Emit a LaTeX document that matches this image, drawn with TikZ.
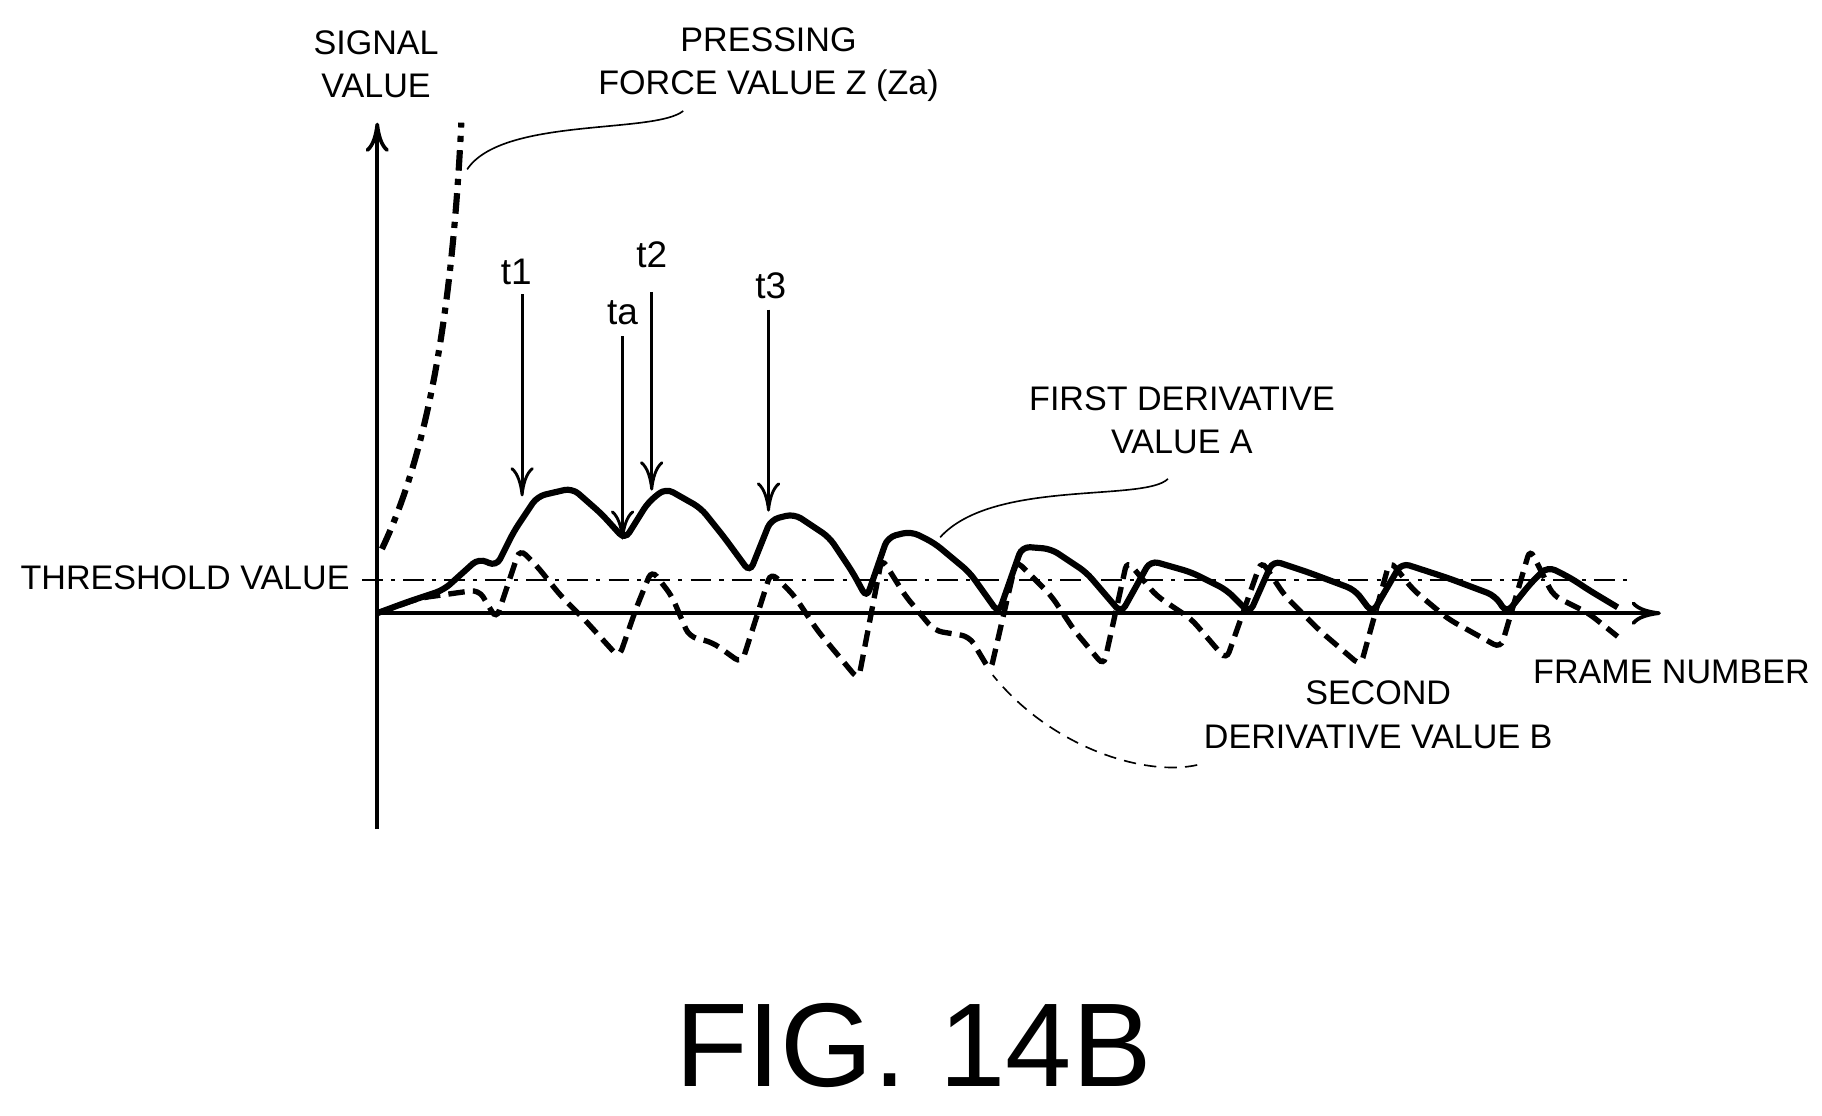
\documentclass[tikz,border=0pt]{standalone}
\usepackage{fontspec}
\setmainfont{Liberation Sans}
\usetikzlibrary{positioning,calc,arrows.meta}

\begin{document}
\begin{tikzpicture}[x=0.01cm,y=-0.01cm]
	\tikzset{
		lbl/.style={font=\fontsize{8.3}{10.5}\selectfont, inner sep=0pt, align=center},
		tlbl/.style={font=\fontsize{9}{10}\selectfont, inner sep=0pt},
		ax/.style={line width=0.9pt, -{To[length=2.5mm,width=2mm]}},
		tmark/.style={line width=0.7pt, -{To[length=2.5mm,width=2mm]}},
		lead/.style={line width=0.4pt},
		curA/.style={line width=1.5pt, rounded corners=2pt},
		curB/.style={line width=1.3pt, dash pattern=on 4pt off 2pt, rounded corners=2pt}
	}
	\useasboundingbox (0,0) rectangle (1560,955);
	% axes
	\coordinate (o) at (323,525);
	\coordinate (ytop) at (323,105);
	\coordinate (ybot) at (323,710);
	\coordinate (xend) at (1422,525);
	\draw[ax] (ybot) -- (ytop);
	\draw[ax] (o) -- (xend);
	\coordinate (th1) at (310,497);
	\coordinate (th2) at (1395,497);
	\draw[line width=0.5pt, dash pattern=on 5pt off 2pt on 1pt off 2pt] (th1) -- (th2);

	% labels
	\node[lbl] (sig) at (322,55) {SIGNAL\\VALUE};
	\node[lbl] (pf) at (658,55) {PRESSING\\FORCE VALUE Z (Za)};
	\node[lbl] (fd) at (1012,360) {FIRST DERIVATIVE\\VALUE A};
	\node[lbl] (sd) at (1180,612) {SECOND\\DERIVATIVE VALUE B};
	\node[lbl, anchor=east] (thr) at (300,495) {THRESHOLD VALUE};
	\node[lbl, anchor=west] (fn) at (1312,575) {FRAME NUMBER};
	\node[font=\fontsize{29}{31}\selectfont, inner sep=0pt] (fig) at (782,895) {FIG. 14B};

	% pressing force value Z
	\coordinate (z0) at (327,470);
	\coordinate (z1) at (395,105);
	\draw[line width=1.5pt, dash pattern=on 5pt off 2pt on 1.5pt off 2pt] (z0) .. controls (370,380) and (388,250) .. (z1);

	% first derivative value A
	\draw[curA] plot coordinates {(323,525) (350,515) (380,505) (410,478) (425,485) (440,455) (460,425) (490,418) (515,440) (535,462) (555,430) (570,418) (600,435) (620,460) (642,490) (660,445) (680,440) (710,460) (730,490) (742,512) (760,460) (780,455) (800,465) (830,490) (855,525) (875,468) (900,470) (930,490) (960,525) (985,480) (1020,490) (1050,505) (1070,525) (1090,480) (1120,490) (1160,505) (1175,525) (1200,482) (1240,495) (1280,510) (1290,525) (1310,500) (1325,485) (1345,495) (1360,505) (1385,520)};

	% second derivative value B
	\draw[curB] plot coordinates {(323,525) (360,512) (410,505) (425,530) (445,470) (460,485) (480,510) (500,530) (530,563) (545,520) (558,488) (575,510) (590,545) (610,550) (635,568) (660,490) (680,510) (700,540) (735,582) (755,478) (775,510) (800,540) (830,545) (848,575) (870,480) (900,510) (920,540) (945,570) (965,480) (990,510) (1020,530) (1050,565) (1080,480) (1100,510) (1130,540) (1165,570) (1190,480) (1210,505) (1240,530) (1285,555) (1310,470) (1330,510) (1360,525) (1385,545)};

	% leaders
	\coordinate (pfA) at (585,95);
	\coordinate (pfB) at (400,145);
	\draw[lead] (pfA) .. controls (560,115) and (430,100) .. (pfB);
	\coordinate (fdA) at (1000,410);
	\coordinate (fdB) at (805,460);
	\draw[lead] (fdA) .. controls (980,430) and (850,410) .. (fdB);
	\coordinate (sdA) at (1025,655);
	\coordinate (sdB) at (850,578);
	\draw[lead, dash pattern=on 3pt off 2pt] (sdA) .. controls (980,665) and (900,640) .. (sdB);

	% time marks
	\node[tlbl] (t1) at (442,233) {t1};
	\node[tlbl] (ta) at (533,268) {ta};
	\node[tlbl] (t2) at (558,218) {t2};
	\node[tlbl] (t3) at (660,245) {t3};
	\coordinate (t1e) at (447,425);
	\coordinate (tae) at (533,462);
	\coordinate (t2e) at (558,420);
	\coordinate (t3e) at (658,438);
	\draw[tmark] (447,252) -- (t1e);
	\draw[tmark] (533,288) -- (tae);
	\draw[tmark] (558,250) -- (t2e);
	\draw[tmark] (658,265) -- (t3e);
\end{tikzpicture}
\end{document}
